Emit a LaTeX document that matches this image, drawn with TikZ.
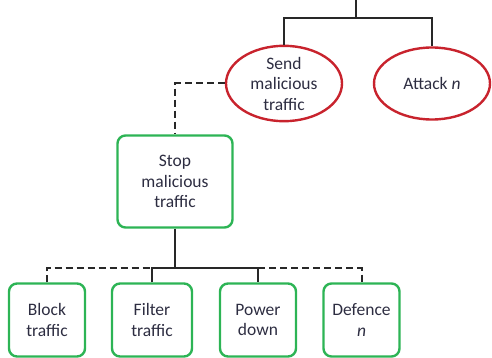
\documentclass[tikz,border=0pt]{standalone}
\usepackage{fontspec}
\setmainfont{Carlito}
\usetikzlibrary{shapes.geometric}
\definecolor{atkred}{RGB}{200,35,45}
\definecolor{defgreen}{RGB}{45,180,85}
\definecolor{linegray}{RGB}{40,40,40}
\definecolor{txt}{RGB}{45,45,65}
\begin{document}
\begin{tikzpicture}[x=1pt,y=-1pt,
  font=\fontsize{17.5}{20.5}\selectfont,
  attack/.style={ellipse,draw=atkred,line width=2.4pt,minimum width=116pt,minimum height=72pt,inner sep=0pt,align=center,text=txt},
  defence/.style={rectangle,rounded corners=8pt,draw=defgreen,line width=2.4pt,align=center,text=txt,inner sep=0pt},
  conn/.style={draw=linegray,line width=2pt},
  dconn/.style={draw=linegray,line width=2pt,dash pattern=on 7pt off 4pt}]
\useasboundingbox (0,0) rectangle (492,358);
\coordinate (top) at (356,-2);
\coordinate (topj) at (356,18);
\node[attack] (send) at (284,83.5) {Send\\malicious\\traffic};
\node[attack] (atk) at (432,83.5) {Attack \textit{n}};
\node[defence,minimum width=115pt,minimum height=92pt] (stop) at (175,181.5) {Stop\\malicious\\traffic};
\node[defence,minimum width=76pt,minimum height=73pt] (block) at (47,320) {Block\\traffic};
\node[defence,minimum width=80pt,minimum height=73pt] (filter) at (152,320) {Filter\\traffic};
\node[defence,minimum width=76pt,minimum height=73pt] (power) at (258,320) {Power\\down};
\node[defence,minimum width=76pt,minimum height=73pt] (def) at (361.5,320) {Defence\\\textit{n}};
\coordinate (bj) at (175,268);
\draw[conn] (top) -- (topj);
\draw[conn] (send.north) |- (topj) -| (atk.north);
\draw[dconn] (send.west) -| (stop.north);
\draw[conn] (stop.south) -- (bj);
\draw[conn] (filter.north) |- (bj) -| (power.north);
\draw[dconn] (block.north) |- (filter.north |- bj);
\draw[dconn] (power.north |- bj) -| (def.north);
\end{tikzpicture}
\end{document}
